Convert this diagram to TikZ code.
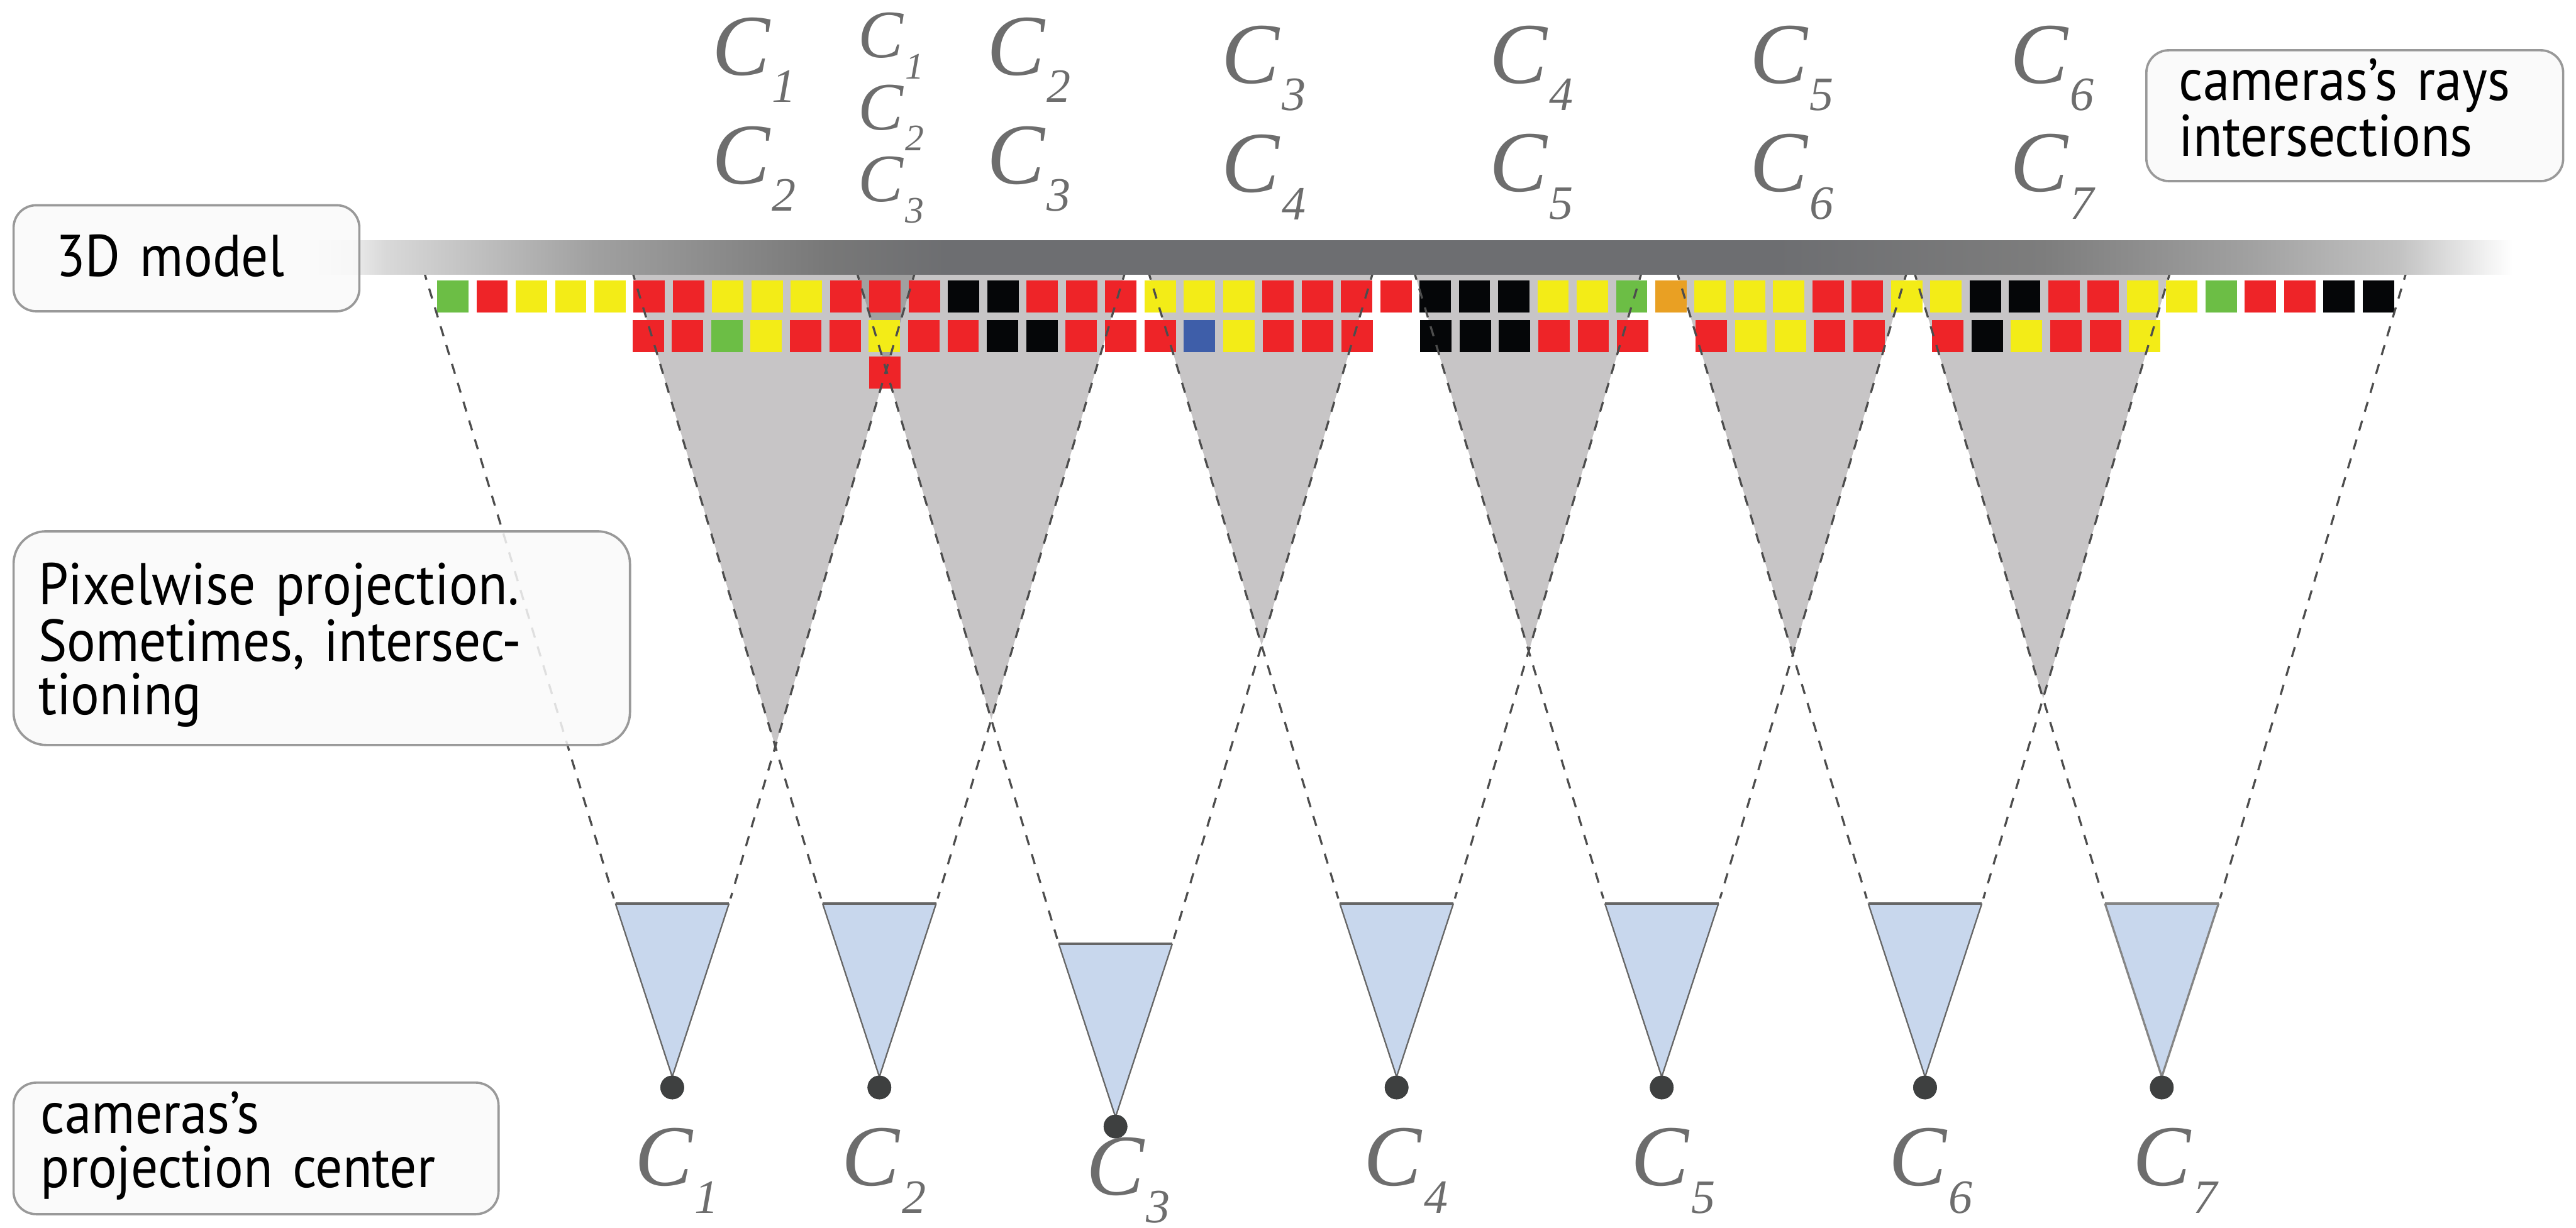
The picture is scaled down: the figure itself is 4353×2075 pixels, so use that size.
\documentclass[tikz,border=0pt]{standalone}
\usepackage{fontspec}
\setmainfont{PT Sans}[FakeStretch=0.91,WordSpace=0.75]
\newfontfamily\camfont{Liberation Serif}[ItalicFont={Liberation Serif Italic}]
\usetikzlibrary{calc}
\definecolor{pixr}{RGB}{238,36,40}
\definecolor{pixy}{RGB}{243,236,23}
\definecolor{pixg}{RGB}{108,190,69}
\definecolor{pixk}{RGB}{5,6,8}
\definecolor{pixb}{RGB}{62,94,169}
\definecolor{pixo}{RGB}{233,160,35}
\definecolor{overlap}{RGB}{199,197,198}
\definecolor{overlapdark}{RGB}{160,160,160}
\definecolor{fovblue}{RGB}{200,215,237}
\definecolor{edgegray}{RGB}{102,102,102}
\definecolor{raygray}{RGB}{77,77,77}
\definecolor{labgray}{RGB}{109,109,109}
\definecolor{dotgray}{RGB}{62,64,64}
\definecolor{barmid}{RGB}{109,110,113}
\pgfdeclarehorizontalshading{modelbar}{100bp}{
  color(0bp)=(white); color(25bp)=(white); color(26.5bp)=(black!15);
  color(31.2bp)=(black!37); color(36.6bp)=(black!53); color(39.3bp)=(barmid);
  color(58.2bp)=(barmid); color(64.3bp)=(black!51); color(69bp)=(black!37);
  color(72.4bp)=(black!24); color(75bp)=(white); color(100bp)=(white)}
\newcommand{\camname}[1]{C\kern1pt\raisebox{-0.46cm}{\fontsize{23}{23}\selectfont #1}}
\newcommand{\camnamesm}[1]{C\kern1pt\raisebox{-0.36cm}{\fontsize{18}{18}\selectfont #1}}
\tikzset{
  pixelbox/.style={anchor=north west,inner sep=0pt,minimum width=0.53cm,minimum height=0.54cm},
  pixr/.style={fill=pixr}, pixy/.style={fill=pixy}, pixg/.style={fill=pixg},
  pixk/.style={fill=pixk}, pixb/.style={fill=pixb}, pixo/.style={fill=pixo},
  pixn/.style={},
  rayline/.style={raygray,line width=1pt,dash pattern=on 4.96pt off 4.5pt,dash phase=2.4pt,shorten >=2.5pt},
  fovcone/.style={fill=fovblue,draw=edgegray,line width=0.7pt,line join=miter},
  fovtop/.style={draw=edgegray,line width=1.2pt},
  camdot/.style={circle,fill=dotgray,inner sep=0pt,minimum size=0.4cm},
  camlab/.style={anchor=base west,inner sep=0pt,text=labgray,font=\camfont\itshape\fontsize{41.7}{41.7}\selectfont},
  camlabsm/.style={camlab,font=\camfont\itshape\fontsize{32.6}{32.6}\selectfont},
  notebox/.style={anchor=north west,draw=black!40,line width=1.1pt,fill=black!2.5,fill opacity=0.85,text opacity=1,
    rounded corners=0.38cm,align=left,inner xsep=0pt,inner ysep=0pt,
    font=\fontsize{28.35}{25.8}\selectfont}
}

\begin{document}
\begin{tikzpicture}[x=0.01cm,y=-0.01cm]
\useasboundingbox (0,0) rectangle (4353,2075);

% Camera corners and where the rays reach the model
\foreach \n/\cx/\ty/\dy/\rl/\rr in {1/1136/1527/1838/718/1545,2/1486/1527/1838/1070/1900,
    3/1885/1595/1904/1449/2319,4/2360/1527/1838/1942/2773,5/2808/1527/1838/2391/3221,
    6/3253/1527/1838/2835/3666,7/3653/1527/1838/3236/4065}{
  \coordinate (cam\n l) at ({\cx-96},\ty);
  \coordinate (cam\n r) at ({\cx+96},\ty);
  \coordinate (cam\n a) at (\cx,{\ty+293});
  \coordinate (ray\n l) at (\rl,464);
  \coordinate (ray\n r) at (\rr,464);
  \node[camdot] (dot\n) at (\cx,\dy) {};
}

% Overlap of neighbouring cones
\foreach \a/\b in {1/2,2/3,3/4,4/5,5/6,6/7}{
  \fill[overlap] (ray\b l) -- (ray\a r)
    -- (intersection of ray\a r--cam\a r and ray\b l--cam\b l) -- cycle;
}
\fill[overlapdark] (ray3l) -- (ray1r)
  -- (intersection of ray1r--cam1r and ray3l--cam3l) -- cycle;

% Pixels, first row
\foreach \c [count=\i from 0] in {g,r,y,y,y,r,r,y,y,y,r,r,r,k,k,r,r,r,y,y,y,r,r,r,r,
    k,k,k,y,y,g,o,y,y,y,r,r,y,y,k,k,r,r,y,y,g,r,r,k,k}{
  \node[pixelbox,pix\c] (rowa\i) at ({738+66.4*\i},473) {};
}
% Pixels, second row
\foreach \c [count=\i from 0] in {r,r,g,y,r,r,y,r,r,k,k,r,r,r,b,y,r,r,r,n,k,k,k,r,r,
    r,n,r,y,y,r,r,n,r,k,y,r,r,y}{
  \node[pixelbox,pix\c] (rowb\i) at ({1068+66.55*\i},540) {};
}
\node[pixelbox,pixr] (rowc0) at (1468,602) {};

% Rays
\foreach \n in {1,...,7}{
  \draw[rayline] (ray\n l) -- (cam\n l);
  \draw[rayline] (ray\n r) -- (cam\n r);
}

% 3D model
\shade[shading=modelbar] (540,407) rectangle (4245,464);

% Cameras
\foreach \n in {1,...,6}{
  \fill[fovblue] (cam\n l) -- (cam\n r) -- (cam\n a) -- cycle;
  \draw[fovcone,fill=none] (cam\n l) -- (cam\n a) -- (cam\n r);
  \draw[fovtop] (cam\n l) -- (cam\n r);
}
\fill[fovblue] (cam7l) -- (cam7r) -- (cam7a) -- cycle;
\draw[fovcone,fill=none,draw=black!48,line width=1pt] (cam7l) -- (cam7a) -- (cam7r);
\draw[fovtop,draw=black!48] (cam7l) -- (cam7r);
\foreach \n in {1,...,7}{
  \node[camdot] at (dot\n) {};
}

% Names under the cameras
\foreach \n/\x/\y in {1/1072/2004,2/1422/2004,3/1835/2020,4/2304/2004,5/2756/2004,6/3191/2004,7/3604/2004}{
  \node[camlab] (camname\n) at (\x,\y) {\camname{\n}};
}

% Names over the intersections
\foreach \x/\y/\s [count=\i] in {1203/127/1,1203/311/2,1667/127/2,1667/311/3,2064/141/3,2064/325/4,
    2516/141/4,2516/324/5,2956/141/5,2956/324/6,3396/141/6,3396/324/7}{
  \node[camlab] (crossname\i) at (\x,\y) {\camname{\s}};
}
\foreach \y/\s in {97/1,219/2,341/3}{
  \node[camlabsm] (triplename\s) at (1449,\y) {\camnamesm{\s}};
}

% Notes
\node[notebox,minimum width=5.84cm,minimum height=1.79cm,text width=4.4cm,inner xsep=0.72cm] (modelnote) at (21,345)
  {3D model\rule[-0.1cm]{0pt}{0pt}};
\node[notebox,rounded corners=0.55cm,minimum width=10.41cm,minimum height=3.61cm,text width=9.57cm,inner xsep=0.42cm] (pixnote) at (21,896)
  {\rule{0pt}{0.94cm}Pixelwise projection.\\Sometimes, intersec-\\tioning};
\node[notebox,minimum width=7.04cm,minimum height=2.21cm,text width=5.94cm,inner xsep=0.55cm] (raynote) at (3625,83)
  {cameras’s rays\\intersections\rule[-0.28cm]{0pt}{0pt}};
\node[notebox,minimum width=8.19cm,minimum height=2.22cm,text width=7.27cm,inner xsep=0.46cm] (centernote) at (21,1828)
  {cameras’s\\projection center\rule[-0.3cm]{0pt}{0pt}};
\end{tikzpicture}
\end{document}
